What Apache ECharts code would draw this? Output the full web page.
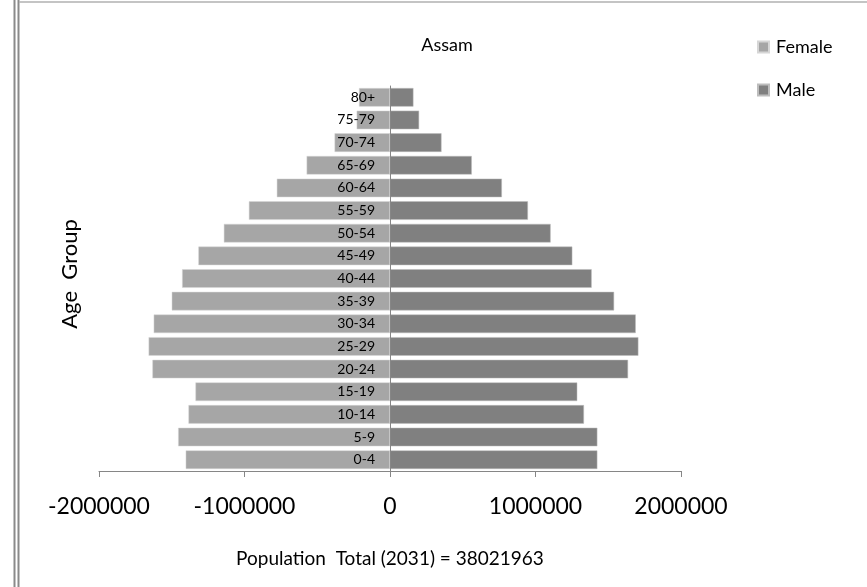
<!DOCTYPE html>
<html>
<head>
<meta charset="utf-8">
<script src="https://cdn.jsdelivr.net/npm/echarts@6/dist/echarts.min.js"></script>
<style>html,body{margin:0;padding:0;background:#fff;}#chart{width:867px;height:587px;}</style>
</head>
<body>
<div id="chart"></div>
<script>
var categories = ['0-4','5-9','10-14','15-19','20-24','25-29','30-34','35-39','40-44','45-49','50-54','55-59','60-64','65-69','70-74','75-79','80+'];
var femaleValues = [-1404000,-1456000,-1385000,-1337000,-1633000,-1659000,-1624000,-1500000,-1429000,-1317000,-1142000,-970000,-778000,-573000,-381000,-229000,-213000];
var maleValues = [1425000,1425000,1333000,1287000,1636000,1707000,1689000,1540000,1386000,1253000,1104000,948000,769000,562000,354000,200000,161000];
var xTicks = {min:-2000000, max:2000000, interval:1000000};

var chart = echarts.init(document.getElementById('chart'), null, {renderer:'canvas'});
var FONT = 'Lato, "Open Sans", sans-serif';
var GRID_LEFT = 99, GRID_RIGHT = 186, W = 867;
var zeroOffset = -((W - GRID_LEFT - GRID_RIGHT) / 2);
chart.setOption({
  animation:false,
  backgroundColor:'#ffffff',
  textStyle:{fontFamily:FONT},
  title:{text:'Assam', left:442, top:31, textAlign:'center',
    textStyle:{fontFamily:FONT, fontSize:18, fontWeight:'normal', color:'#000'}},
  legend:{orient:'vertical', left:752, top:33, itemWidth:11, itemHeight:11, itemGap:25,
    icon:'rect', data:['Female','Male'],
    textStyle:{fontFamily:FONT, fontSize:18, color:'#000', padding:[0,0,0,2]}},
  grid:{left:GRID_LEFT, right:GRID_RIGHT, top:86, bottom:116},
  xAxis:{type:'value', min:xTicks.min, max:xTicks.max, interval:xTicks.interval,
    splitLine:{show:false},
    axisLine:{show:true, lineStyle:{color:'#868686', width:1}},
    axisTick:{show:true, length:6, lineStyle:{color:'#868686'}},
    axisLabel:{fontFamily:FONT, fontSize:23, color:'#000', margin:24,
      formatter:function(v){return String(v);}},
    name:'Population  Total (2031) = 38021963', nameLocation:'middle', nameGap:78,
    nameTextStyle:{fontFamily:FONT, fontSize:19, color:'#000'}},
  yAxis:{type:'category', data:categories, offset:zeroOffset, z:10,
    axisLine:{show:true, onZero:false, lineStyle:{color:'#868686', width:1}},
    axisTick:{show:false},
    axisLabel:{fontFamily:FONT, fontSize:14, color:'#000', margin:15}},
  graphic:[
    {type:'text', x:70, y:274, rotation:Math.PI/2,
     style:{text:'Age  Group', fontFamily:FONT, fontSize:22, fill:'#000', align:'center', verticalAlign:'middle'}},
    {type:'rect', shape:{x:13.5, y:0, width:2, height:587}, style:{fill:'#8a8a8a'}},
    {type:'rect', shape:{x:17.5, y:0, width:2, height:587}, style:{fill:'#8a8a8a'}},
    {type:'rect', shape:{x:19.5, y:1.5, width:848, height:1}, style:{fill:'#8a8a8a'}}
  ],
  series:[
    {name:'Female', type:'bar', data:femaleValues, barGap:'-100%', barCategoryGap:'18%',
     itemStyle:{color:'#A6A6A6', borderColor:'#d6d6d6', borderWidth:0.5}},
    {name:'Male', type:'bar', data:maleValues, barGap:'-100%', barCategoryGap:'18%',
     itemStyle:{color:'#808080', borderColor:'#bdbdbd', borderWidth:0.5}}
  ]
});
</script>
</body>
</html>
